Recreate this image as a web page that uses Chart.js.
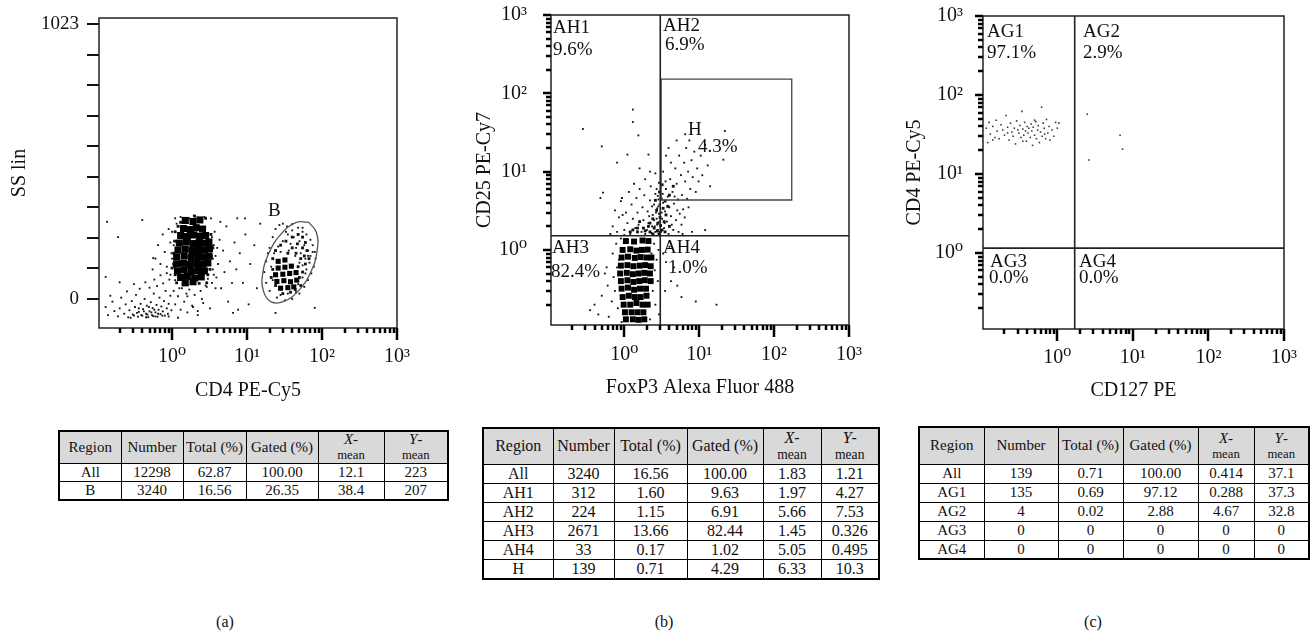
<!DOCTYPE html>
<html>
<head>
<meta charset="utf-8">
<script src="https://cdn.jsdelivr.net/npm/chart.js@4.4.1/dist/chart.umd.min.js"></script>
<style>
  body { margin: 0; width: 1310px; height: 636px; position: relative; overflow: hidden; background: #fff;
         font-family: "Liberation Serif", "DejaVu Serif", serif; color: #111; }
  canvas { position: absolute; top: 0; }
  table.stats { position: absolute; border-collapse: collapse; table-layout: fixed; border: 2px solid #000; }
  table.stats td, table.stats th { border: 1px solid #000; padding: 0; text-align: center; font-weight: normal; white-space: nowrap; }
  table.stats th { background: #d9d9d9; line-height: 1; }
  table.stats th .m { font-size: 0.85em; }
  .tag { position: absolute; top: 613px; font-size: 16px; width: 40px; text-align: center; }
</style>
</head>
<body>
<canvas id="plotA" width="440" height="405" style="left:0px"></canvas>
<canvas id="plotB" width="435" height="405" style="left:440px"></canvas>
<canvas id="plotC" width="435" height="405" style="left:875px"></canvas>
<table class="stats" id="tabA"></table>
<table class="stats" id="tabB"></table>
<table class="stats" id="tabC"></table>
<div class="tag" style="left:205px">(a)</div>
<div class="tag" style="left:644px">(b)</div>
<div class="tag" style="left:1073px">(c)</div>

<script>
// ---------- axis ticks ----------
const logTicks = [0.2, 0.3, 0.4, 0.5, 0.6, 0.7, 0.8, 0.9, 1, 2, 3, 4, 5, 6, 7, 8, 9,
  10, 20, 30, 40, 50, 60, 70, 80, 90, 100, 200, 300, 400, 500, 600, 700, 800, 900, 1000];
const decadeValues = [1, 10, 100, 1000];
const decadeText = ['10\u2070', '10\u00b9', '10\u00b2', '10\u00b3'];
const ssTicks = [0, 114, 227, 341, 455, 568, 682, 796, 909, 1023];
const ssLabels = ['0', '', '', '', '', '', '', '', '', '1023'];

// ---------- panel (a): CD4 PE-Cy5 vs SS lin ----------
const gateB = [[66, 286], [84, 248], [86, 180], [71, 101], [49, 32], [31, -9], [21, -11],
  [16.6, 28], [16.2, 95], [19.8, 174], [28.7, 243], [44.6, 284], [66, 286]];
const aDense = [
  [1.5, 292], [1.9, 288], [2.35, 294],
  [1.42, 262], [1.75, 258], [2.1, 265], [2.55, 260],
  [1.3, 236], [1.6, 232], [1.95, 238], [2.35, 233], [2.8, 236],
  [1.25, 208], [1.55, 212], [1.9, 206], [2.3, 210], [2.8, 207], [3.1, 212],
  [1.2, 182], [1.5, 185], [1.85, 180], [2.25, 184], [2.7, 181], [3.15, 186],
  [1.15, 156], [1.45, 160], [1.8, 154], [2.2, 158], [2.65, 155], [3.1, 159],
  [1.15, 130], [1.42, 133], [1.75, 128], [2.15, 132], [2.6, 129], [3.0, 134],
  [1.18, 104], [1.45, 108], [1.8, 102], [2.2, 106], [2.7, 104],
  [1.3, 80], [1.6, 84], [2.0, 78], [2.45, 82],
  [1.5, 60], [1.9, 64]
];
const aDenseB = [
  [26, 140], [32, 145], [26, 115], [32, 118], [39, 122], [24, 90], [30, 92], [37, 95], [45, 98],
  [25, 65], [31, 68], [38, 64], [46, 70], [28, 40], [35, 42], [42, 45]
];
const aMid = [
  [1.1, 250], [1.05, 170], [1.08, 215], [3.3, 240], [3.35, 160], [3.3, 200], [3.2, 110], [1.1, 90],
  [1.05, 130], [2.8, 300], [1.3, 285], [1.2, 270], [2.0, 308], [3.0, 90], [2.9, 60], [1.4, 55],
  [2.3, 58], [1.0, 115], [3.5, 190], [1.15, 60],
  [22, 150], [24, 180], [28, 200], [33, 215], [40, 230], [48, 240], [55, 230], [60, 210], [63, 180],
  [55, 190], [47, 205], [40, 190], [35, 170], [45, 170], [52, 150], [58, 160], [67, 150], [48, 120],
  [55, 100], [60, 130], [22, 110], [21, 80], [24, 50], [50, 80], [52, 50], [38, 25], [30, 20], [44, 35]
];
const aEvents = [
  // low-signal cloud
  [0.13, -30], [0.14, -60], [0.16, -10], [0.17, -45], [0.19, -65], [0.2, -35], [0.21, 5], [0.23, -55],
  [0.24, -20], [0.26, -68], [0.27, -42], [0.29, -8], [0.3, -58], [0.32, -30], [0.33, 15], [0.35, -66],
  [0.36, -48], [0.38, -18], [0.4, -62], [0.41, -38], [0.43, 0], [0.45, -55], [0.46, -25], [0.48, -68],
  [0.5, -46], [0.52, -12], [0.54, -60], [0.55, -34], [0.57, 20], [0.6, -50], [0.62, -22], [0.64, -66],
  [0.66, -40], [0.68, 5], [0.7, -56], [0.72, -28], [0.75, -46], [0.78, -8], [0.8, -62], [0.82, 30],
  [0.85, -35], [0.88, -55], [0.9, -18], [0.95, 12], [0.98, -42], [0.25, 28], [0.31, 55], [0.37, 38],
  [0.44, 62], [0.5, 42], [0.58, 72], [0.63, 48], [0.7, 88], [0.76, 58], [0.85, 96], [0.92, 72],
  [0.2, 62], [0.15, 12], [0.28, -70], [0.45, -68], [0.6, -65], [0.34, -52], [0.39, -60], [0.42, -46],
  [0.47, -58], [0.53, -50], [0.56, -64], [0.65, -55], [0.74, -62], [0.31, -62], [0.36, -35], [0.49, -30],
  [0.58, -40],
  // spread around the main population
  [0.55, 110], [0.6, 150], [0.65, 200], [0.7, 130], [0.75, 240], [0.8, 175], [0.85, 120], [0.9, 260],
  [0.95, 210], [1.0, 150], [1.05, 30], [1.1, -20], [1.15, 280], [1.2, 10], [1.3, -40], [1.35, 40],
  [1.45, -10], [1.55, 20], [1.6, -50], [1.7, 35], [1.85, -25], [2.0, 15], [2.2, -45], [2.4, 30],
  [2.6, -15], [2.9, 45], [3.2, -35], [3.4, 60], [3.5, 110], [3.6, 200], [3.7, 250], [3.8, 160],
  [3.9, 80], [4.1, 130], [4.3, 220], [4.5, 40], [4.8, 180], [5.0, 100], [5.3, 270], [5.6, -10],
  [5.9, 140], [6.3, 60], [6.8, 210], [7.2, 110], [7.6, -40], [8.0, 170], [8.8, 60], [9.5, 240],
  [10.5, -20], [11, 130], [12.5, 200], [13.5, 40], [15, 280], [7.4, 300], [9.4, 300], [6.5, -52],
  [4.4, 287], [0.4, 294], [0.136, 287], [0.19, 230], [0.13, 82], [0.56, 152], [24, -52], [80, -33],
  [3.3, 300], [2.7, 305], [1.3, 305], [2.2, -60], [1.2, -70], [0.9, -65],
  [1.05, 200], [1.08, 120], [1.0, 250], [3.3, 180], [3.5, 150], [3.4, 230], [3.6, 90], [1.1, 70],
  [1.25, 40], [2.8, 50], [3.0, 75], [2.4, 300], [1.7, 300], [1.95, 310], [1.1, 300], [0.95, 90],
  [0.98, 170], [3.8, 40], [4.0, 190], [1.6, 10], [2.5, 0], [1.9, -30],
  // gate B events
  [20, 190], [22, 230], [24, 260], [27, 275], [30, 280], [34, 270], [40, 278], [48, 265], [55, 250],
  [62, 240], [70, 220], [75, 200], [80, 175], [82, 150], [78, 120], [72, 95], [65, 70], [58, 45],
  [50, 20], [40, 0], [32, -5], [25, 5], [20, 30], [18, 60], [17, 100], [18, 140], [19, 170], [35, 240],
  [42, 230], [50, 215], [58, 200], [65, 180], [70, 160], [60, 150], [52, 170], [45, 190], [38, 205],
  [30, 215], [26, 195], [23, 170], [28, 175], [36, 180], [44, 160], [55, 125], [62, 110], [68, 135],
  [50, 135], [21, 120], [22, 70], [55, 80], [48, 55], [60, 95], [35, 20], [28, 15], [45, 25], [65, 160],
  [75, 175], [40, 255], [55, 265], [33, 250]
];

// ---------- panel (b): FoxP3 Alexa Fluor 488 vs CD25 PE-Cy7 ----------
const bQuadX = 3.02;
const bQuadY = 1.52;
const hGateX = [3.1, 172];
const hGateY = [4.34, 152];
const bDense = [
  [1.05, 1.3], [1.35, 1.28], [1.75, 1.32], [2.1, 1.3],
  [0.95, 1.0], [1.2, 1.02], [1.45, 0.98], [1.72, 1.0], [2.05, 1.01],
  [0.92, 0.8], [1.12, 0.82], [1.38, 0.79], [1.65, 0.81], [1.98, 0.8], [2.3, 0.8],
  [0.9, 0.63], [1.1, 0.64], [1.32, 0.62], [1.6, 0.63], [1.9, 0.64], [2.25, 0.62],
  [0.88, 0.5], [1.08, 0.51], [1.3, 0.49], [1.55, 0.5], [1.85, 0.51], [2.2, 0.5],
  [0.9, 0.4], [1.1, 0.41], [1.32, 0.39], [1.58, 0.4], [1.88, 0.41], [2.25, 0.4],
  [0.92, 0.32], [1.12, 0.33], [1.35, 0.31], [1.62, 0.32], [1.95, 0.32],
  [0.95, 0.25], [1.15, 0.26], [1.38, 0.25], [1.65, 0.25], [1.98, 0.26],
  [0.98, 0.2], [1.2, 0.2], [1.45, 0.21], [1.75, 0.2], [2.05, 0.2],
  [1.02, 0.16], [1.25, 0.16], [1.5, 0.16], [1.8, 0.16],
  [1.05, 0.13], [1.3, 0.13], [1.55, 0.128], [1.85, 0.13]
];
const bMid = [
  [2.2, 1.7], [2.5, 1.9], [2.8, 2.2], [2.9, 1.6], [3.2, 1.8], [3.4, 2.3], [3.0, 2.6], [2.7, 3.2],
  [3.3, 3.4], [3.6, 2.8], [2.4, 2.5], [2.1, 2.0], [1.8, 1.9], [1.5, 1.7], [1.3, 1.8], [2.6, 4.3],
  [3.1, 4.5], [3.8, 3.6], [2.95, 5.5], [3.5, 4.2], [4.0, 5.0], [4.5, 6.5], [3.2, 6.8], [2.4, 1.6],
  [2.75, 1.75], [3.05, 2.05], [3.5, 1.7], [4.0, 2.0], [1.2, 1.7], [1.5, 1.9], [1.9, 1.75], [2.2, 2.2],
  [1.6, 2.3]
];
const bEvents = [
  // AH3 fringe
  [0.35, 0.17], [0.4, 0.2], [0.45, 0.15], [0.5, 0.26], [0.55, 0.5], [0.6, 0.35], [0.62, 0.14],
  [0.68, 0.22], [0.7, 0.9], [0.72, 0.45], [0.75, 0.3], [0.78, 1.2], [0.8, 0.6], [0.82, 0.18],
  [0.85, 0.75], [0.88, 0.4], [0.9, 1.4], [0.92, 0.12], [2.3, 0.9], [2.4, 0.3], [2.5, 1.2],
  [2.55, 0.55], [2.6, 0.2], [2.7, 0.75], [2.8, 0.4], [2.85, 1.0], [2.9, 0.15], [2.2, 0.13], [0.58, 0.6],
  // AH4
  [3.3, 0.9], [3.6, 0.7], [4.2, 0.4], [4.6, 0.6], [5.1, 0.35], [5.8, 0.25], [9, 0.22], [17, 0.2],
  [4.0, 1.1], [3.5, 0.3],
  // AH1
  [1.3, 62], [1.3, 43], [1.54, 29], [0.28, 35], [0.5, 21], [1.1, 16.5], [2.1, 16.5], [0.8, 13],
  [0.52, 5.4], [0.48, 4.6], [0.93, 4.6],
  [0.7, 2.0], [0.75, 3.2], [0.8, 1.7], [0.85, 2.6], [0.9, 4.2], [1.0, 1.8], [1.05, 3.0], [1.1, 2.2],
  [1.15, 5.5], [1.2, 1.6], [1.25, 3.8], [1.3, 2.5], [1.35, 7.0], [1.4, 1.9], [1.45, 4.6], [1.5, 3.0],
  [1.55, 2.1], [1.6, 6.0], [1.7, 1.7], [1.75, 3.5], [1.8, 2.4], [1.85, 5.0], [1.9, 8.0], [2.0, 1.8],
  [2.05, 3.1], [2.1, 2.2], [2.2, 4.3], [2.25, 6.5], [2.3, 1.65], [2.4, 2.8], [2.5, 3.8], [2.55, 2.0],
  [2.6, 5.2], [2.7, 2.5], [2.75, 3.4], [2.8, 1.8], [2.85, 4.4], [2.9, 7.2], [2.95, 2.3], [2.6, 9.5],
  [2.2, 10], [1.6, 11], [1.0, 1.55], [0.65, 1.6], [0.95, 2.8], [2.45, 1.58], [1.9, 1.6], [2.7, 6.0],
  [2.95, 3.8], [2.35, 3.6], [2.6, 1.7], [2.75, 2.1], [2.9, 2.9], [2.5, 2.4], [2.8, 4.9], [2.65, 3.0],
  [2.35, 2.0], [2.15, 2.7], [2.95, 1.7], [2.85, 3.6],
  // AH2 / H
  [3.1, 1.7], [3.2, 2.5], [3.3, 4.0], [3.4, 1.9], [3.5, 3.1], [3.6, 6.0], [3.7, 2.3], [3.8, 4.8],
  [3.9, 1.6], [4.0, 3.5], [4.1, 8.0], [4.2, 2.7], [4.4, 5.5], [4.5, 1.8], [4.6, 3.9], [4.8, 11],
  [4.9, 2.4], [5.0, 7.0], [5.2, 4.4], [5.4, 16], [5.5, 2.9], [5.7, 9.0], [5.9, 5.0], [6.1, 3.3],
  [6.3, 13], [6.5, 7.5], [6.7, 20], [6.9, 4.5], [7.1, 10], [7.4, 25], [7.6, 6.0], [7.9, 14], [8.2, 8.5],
  [8.6, 18], [9.0, 5.5], [9.4, 11], [9.8, 7.5], [10.5, 16], [11, 9.0], [12, 22], [13, 12], [14, 6.5],
  [3.3, 10], [4.2, 13], [3.6, 16], [5.3, 1.7], [6.0, 1.6], [8.0, 1.7], [12, 1.8], [22, 33], [21, 14.2],
  [3.15, 3.0], [3.25, 5.2], [3.45, 2.2], [3.55, 7.5], [4.3, 2.1], [4.7, 4.8], [5.1, 3.2], [5.8, 2.1],
  [6.4, 2.6], [7.2, 3.5], [3.9, 20], [5.0, 25], [6.5, 30]
];

// ---------- panel (c): CD127 PE vs CD4 PE-Cy5 ----------
const cQuadX = 1.7;
const cQuadY = 1.15;
const cEvents = [
  [0.115, 38], [0.12, 25], [0.125, 45], [0.13, 32], [0.14, 40], [0.15, 29], [0.155, 48], [0.16, 35],
  [0.17, 28], [0.18, 42], [0.19, 36], [0.2, 31], [0.21, 55], [0.22, 39], [0.23, 27], [0.24, 44],
  [0.25, 34], [0.26, 30], [0.27, 38], [0.28, 24], [0.29, 47], [0.3, 36], [0.31, 33], [0.32, 41],
  [0.33, 29], [0.34, 62], [0.35, 37], [0.36, 31], [0.37, 45], [0.38, 35], [0.39, 26], [0.4, 40],
  [0.41, 33], [0.42, 38], [0.44, 29], [0.45, 43], [0.46, 35], [0.47, 23], [0.48, 39], [0.5, 31],
  [0.52, 46], [0.53, 28], [0.55, 36], [0.56, 41], [0.58, 25], [0.6, 34], [0.62, 70], [0.63, 30],
  [0.65, 44], [0.67, 38], [0.7, 28], [0.72, 49], [0.75, 33], [0.78, 40], [0.8, 27], [0.85, 36],
  [0.9, 30], [0.95, 45], [1.0, 38], [1.05, 44], [0.14, 27], [0.22, 33], [0.35, 26], [0.5, 48], [0.68, 32],
  [2.49, 57], [2.62, 15], [6.77, 31], [7.3, 20.6]
];

// ---------- statistics tables ----------
const tableA = [
  ['All', '12298', '62.87', '100.00', '12.1', '223'],
  ['B', '3240', '16.56', '26.35', '38.4', '207']
];
const tableB = [
  ['All', '3240', '16.56', '100.00', '1.83', '1.21'],
  ['AH1', '312', '1.60', '9.63', '1.97', '4.27'],
  ['AH2', '224', '1.15', '6.91', '5.66', '7.53'],
  ['AH3', '2671', '13.66', '82.44', '1.45', '0.326'],
  ['AH4', '33', '0.17', '1.02', '5.05', '0.495'],
  ['H', '139', '0.71', '4.29', '6.33', '10.3']
];
const tableC = [
  ['All', '139', '0.71', '100.00', '0.414', '37.1'],
  ['AG1', '135', '0.69', '97.12', '0.288', '37.3'],
  ['AG2', '4', '0.02', '2.88', '4.67', '32.8'],
  ['AG3', '0', '0', '0', '0', '0'],
  ['AG4', '0', '0', '0', '0', '0']
];

const SERIF = '"Liberation Serif", "DejaVu Serif", serif';
const pts = arr => arr.map(([x, y]) => ({x, y}));

// box and longer decade ticks under the events, gate names on top
function frame(labels, xLog, yLog) {
  return {
    id: 'frame',
    beforeDatasetsDraw(chart) {
      const {ctx, chartArea: a, scales: {x, y}} = chart;
      ctx.save();
      ctx.strokeStyle = '#222';
      ctx.lineWidth = 1.5;
      ctx.strokeRect(a.left, a.top, a.right - a.left, a.bottom - a.top);
      ctx.strokeStyle = '#000';
      ctx.lineWidth = 2.5;
      ctx.beginPath();
      if (xLog) {
        x.ticks.forEach(t => {
          const px = Math.round(x.getPixelForValue(t.value));
          const len = decadeValues.includes(t.value) ? 12 : 5;
          ctx.moveTo(px, a.bottom); ctx.lineTo(px, a.bottom + len);
        });
      }
      if (yLog) {
        y.ticks.forEach(t => {
          const py = Math.round(y.getPixelForValue(t.value));
          const len = decadeValues.includes(t.value) ? 8 : 5;
          ctx.moveTo(a.left, py); ctx.lineTo(a.left - len, py);
        });
      }
      ctx.stroke();
      ctx.restore();
    },
    afterDatasetsDraw(chart) {
      const {ctx, chartArea: a} = chart;
      ctx.save();
      ctx.fillStyle = '#111';
      ctx.font = '19px ' + SERIF;
      ctx.textBaseline = 'middle';
      ctx.textAlign = 'left';
      labels.forEach(l => ctx.fillText(l[0], a.left + l[1], a.top + l[2]));
      ctx.restore();
    }
  };
}

// fixed axis box size, no extra room added for the end labels
function fixSize(pos, size) {
  return s => {
    if (pos === 'left') s.width = size; else s.height = size;
    s.paddingTop = 0; s.paddingBottom = 0; s.paddingLeft = 0; s.paddingRight = 0;
  };
}

function logAxis(pos, min, max, size, title, titlePad, tickPad) {
  return {
    type: 'logarithmic', position: pos, min: min, max: max,
    afterBuildTicks: s => { s.ticks = logTicks.map(v => ({value: v})); },
    afterFit: fixSize(pos, size),
    ticks: {
      autoSkip: false, maxRotation: 0, padding: tickPad, color: '#111',
      font: {family: SERIF, size: 20},
      callback: v => { const i = decadeValues.indexOf(v); return i < 0 ? '' : decadeText[i]; }
    },
    grid: {drawOnChartArea: false, tickLength: 5, color: '#000', lineWidth: 2},
    border: {display: false},
    title: {display: true, text: title, color: '#111', font: {family: SERIF, size: 20}, padding: titlePad}
  };
}

function flowChart(id, padding, scales, datasets, labels, xLog, yLog) {
  return new Chart(document.getElementById(id), {
    type: 'scatter',
    data: {datasets: datasets},
    options: {
      responsive: false, animation: false,
      layout: {padding: padding},
      plugins: {legend: {display: false}, tooltip: {enabled: false}},
      scales: scales
    },
    plugins: [frame(labels, xLog, yLog)]
  });
}

const gateLine = (data, color, width) => ({
  data: pts(data), showLine: true, pointRadius: 0, borderColor: color, borderWidth: width, fill: false
});
const dots = (data, r, color) => ({
  data: pts(data), pointStyle: 'rect', pointRadius: r, backgroundColor: color, borderWidth: 0
});

// (a)
flowChart('plotA', {left: 0, top: 18, right: 43, bottom: 0}, {
  x: logAxis('bottom', 0.106, 1000, 77, 'CD4 PE-Cy5', {top: 0, bottom: 2}, 12),
  y: {
    type: 'linear', position: 'left', min: -108, max: 1045,
    afterBuildTicks: s => { s.ticks = ssTicks.map(v => ({value: v})); },
    afterFit: fixSize('left', 99),
    ticks: {
      autoSkip: false, padding: 8, color: '#111', font: {family: SERIF, size: 19},
      callback: v => ssLabels[ssTicks.indexOf(v)]
    },
    grid: {drawOnChartArea: false, tickLength: 12, color: '#111', lineWidth: 2},
    border: {display: false},
    title: {display: true, text: 'SS lin', color: '#111', font: {family: SERIF, size: 20}, padding: {top: 8, bottom: 0}}
  }
}, [
  Object.assign(gateLine(gateB, '#555', 1.3), {tension: 0.45}),
  dots(aDense, 5, '#000'),
  dots(aDenseB, 3.6, '#000'),
  dots(aMid, 2, '#111'),
  dots(aEvents, 1.3, '#111')
], [['B', 169, 193]], true, false);

// (b)
flowChart('plotB', {left: 0, top: 15, right: 26, bottom: 0}, {
  x: logAxis('bottom', 0.105, 1000, 80, 'FoxP3 Alexa Fluor 488', {top: 0, bottom: 5}, 13),
  y: logAxis('left', 0.11, 1000, 111, 'CD25 PE-Cy7', {top: 33, bottom: 0}, 19)
}, [
  gateLine([[bQuadX, 0.11], [bQuadX, 1000]], '#222', 1.6),
  gateLine([[0.105, bQuadY], [1000, bQuadY]], '#222', 1.6),
  gateLine([[hGateX[0], hGateY[0]], [hGateX[1], hGateY[0]], [hGateX[1], hGateY[1]],
            [hGateX[0], hGateY[1]], [hGateX[0], hGateY[0]]], '#444', 1.3),
  dots(bDense, 4.2, '#000'),
  dots(bMid, 2, '#111'),
  dots(bEvents, 1.3, '#111')
], [['AH1', 2, 13], ['9.6%', 2, 35], ['AH2', 112, 11], ['6.9%', 114, 30], ['H', 137, 115],
    ['4.3%', 147, 132], ['AH3', 1, 233], ['82.4%', 0, 257], ['AH4', 112, 233], ['1.0%', 117, 253]], true, true);

// (c)
flowChart('plotC', {left: 0, top: 16, right: 26, bottom: 0}, {
  x: logAxis('bottom', 0.104, 1000, 76, 'CD127 PE', {top: 0, bottom: 2}, 12),
  y: logAxis('left', 0.109, 1000, 108, 'CD4 PE-Cy5', {top: 28, bottom: 0}, 15)
}, [
  gateLine([[cQuadX, 0.109], [cQuadX, 1000]], '#222', 1.6),
  gateLine([[0.104, cQuadY], [1000, cQuadY]], '#222', 1.6),
  dots(cEvents, 1.1, '#333')
], [['AG1', 4, 16], ['97.1%', 4, 37], ['AG2', 100, 16], ['2.9%', 100, 37],
    ['AG3', 7, 246], ['0.0%', 6, 262], ['AG4', 96, 246], ['0.0%', 96, 262]], true, true);

// ---------- tables ----------
function buildTable(id, rows, box) {
  const t = document.getElementById(id);
  t.style.left = box.left + 'px';
  t.style.top = box.top + 'px';
  t.style.fontSize = box.font + 'px';
  let html = '<colgroup>' + box.cols.map(w => '<col style="width:' + w + 'px">').join('') + '</colgroup>';
  html += '<tr style="height:' + box.head + 'px"><th>Region</th><th>Number</th><th>Total (%)</th><th>Gated (%)</th>' +
    '<th><i>X</i>-<br><span class="m">mean</span></th><th><i>Y</i>-<br><span class="m">mean</span></th></tr>';
  rows.forEach(r => {
    html += '<tr style="height:' + box.row + 'px">' + r.map(c => '<td>' + c + '</td>').join('') + '</tr>';
  });
  t.innerHTML = html;
}
buildTable('tabA', tableA, {left: 58, top: 430, font: 15, head: 32, row: 17, cols: [62, 62, 63, 72, 66, 64]});
buildTable('tabB', tableB, {left: 482, top: 427, font: 16, head: 36, row: 19, cols: [70, 61, 73, 76, 58, 58]});
buildTable('tabC', tableC, {left: 918, top: 426, font: 15, head: 37, row: 19, cols: [65, 74, 65, 75, 56, 55]});
</script>
</body>
</html>
